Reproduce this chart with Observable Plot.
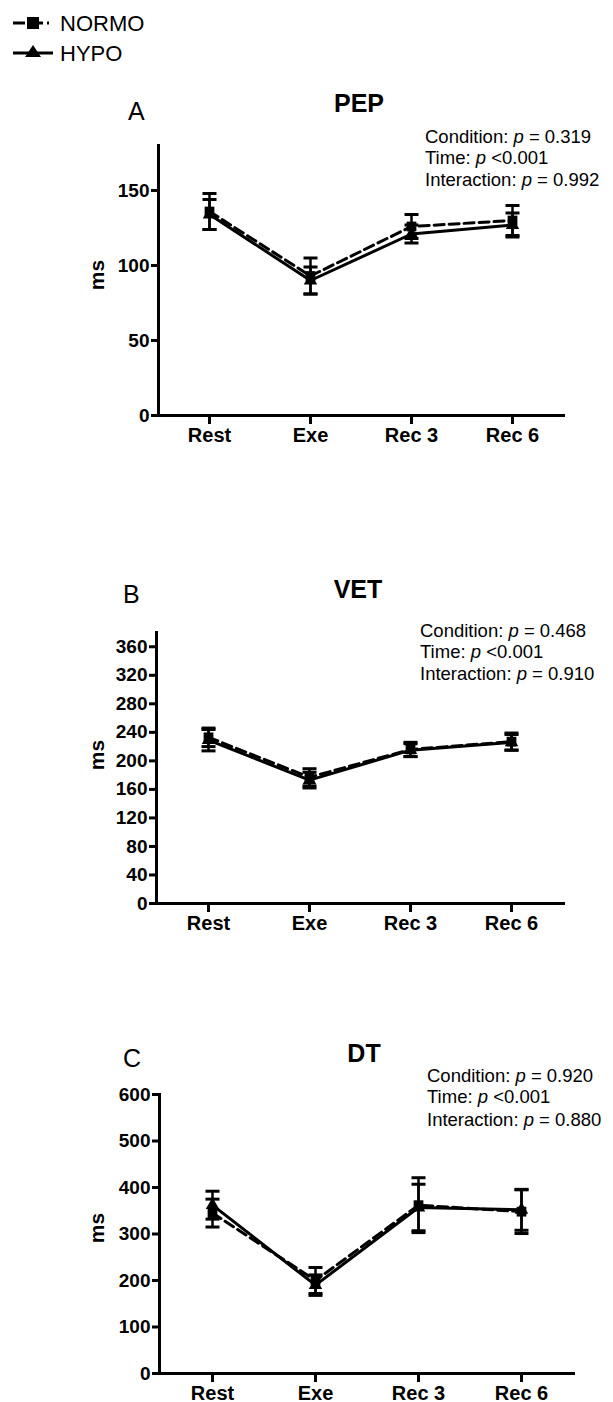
<!DOCTYPE html>
<html><head><meta charset="utf-8">
<script src="https://cdn.jsdelivr.net/npm/d3@7"></script>
<script src="https://cdn.jsdelivr.net/npm/@observablehq/plot@0.6"></script>
<style>
body{margin:0;background:#fff;width:613px;height:1402px;position:relative;overflow:hidden;font-family:Arial,"Liberation Sans",sans-serif;}
.panel{position:absolute;left:0;}
</style></head><body>
<div id="legend" class="panel" style="top:0"></div>
<div id="pA" class="panel"></div>
<div id="pB" class="panel"></div>
<div id="pC" class="panel"></div>
<script>
// ---- data ----
const times = ["Rest", "Exe", "Rec 3", "Rec 6"];
const seriesNames = ["NORMO", "HYPO"];

const pepNormoMean = [136, 93, 126, 130];
const pepNormoSD   = [12, 12, 8, 10];
const pepHypoMean  = [134, 90, 121, 127];
const pepHypoSD    = [10, 9, 6, 8];
const pepTicks = [0, 50, 100, 150];
const pepStats = ["= 0.319", "<0.001", "= 0.992"];

const vetNormoMean = [233, 177, 216, 227];
const vetNormoSD   = [13, 12, 10, 12];
const vetHypoMean  = [229, 173, 215, 226];
const vetHypoSD    = [15, 11, 9, 11];
const vetTicks = [0, 40, 80, 120, 160, 200, 240, 280, 320, 360];
const vetStats = ["= 0.468", "<0.001", "= 0.910"];

const dtNormoMean = [345, 200, 362, 348];
const dtNormoSD   = [30, 28, 59, 47];
const dtHypoMean  = [362, 190, 357, 352];
const dtHypoSD    = [30, 22, 50, 44];
const dtTicks = [0, 100, 200, 300, 400, 500, 600];
const dtStats = ["= 0.920", "<0.001", "= 0.880"];

const statLabels = ["Condition:", "Time:", "Interaction:"];

const FONT = "Arial, 'Liberation Sans', sans-serif";

// horizontal-bar symbol for error-bar caps
const capSymbol = {
  draw(context, size) {
    const r = Math.sqrt(size / Math.PI);
    context.moveTo(-r, 0);
    context.lineTo(r, 0);
  }
};

function panel(cfg) {
  const normo = times.map((t, i) => ({series: "NORMO", time: t, mean: cfg.normoMean[i], sd: cfg.normoSD[i]}));
  const hypo = times.map((t, i) => ({series: "HYPO", time: t, mean: cfg.hypoMean[i], sd: cfg.hypoSD[i]}));
  const rows = hypo.concat(normo);
  const top = cfg.top;
  const chart = Plot.plot({
    width: 613,
    height: cfg.height,
    marginLeft: cfg.left,
    marginRight: 613 - cfg.right,
    marginTop: cfg.plotTop - top,
    marginBottom: top + cfg.height - cfg.plotBottom,
    style: {fontFamily: FONT, fontWeight: "bold", background: "white", color: "black", overflow: "visible"},
    x: {type: "point", domain: times, padding: 0.5},
    y: {domain: [0, cfg.yMax]},
    marks: [
      Plot.axisY({ticks: cfg.ticks, tickSize: 7, tickPadding: 2, strokeWidth: 3, fontSize: cfg.tickFont, fontWeight: "bold", label: null, tickFormat: d => String(d)}),
      Plot.axisX({tickSize: 9, tickPadding: 3, strokeWidth: 3, fontSize: 20, fontWeight: "bold", label: null}),
      Plot.ruleX(rows, {x: "time", y1: d => d.mean - d.sd, y2: d => d.mean + d.sd, strokeWidth: 2.5}),
      Plot.dot(rows, {x: "time", y: d => d.mean + d.sd, symbol: capSymbol, r: 7, stroke: "black", strokeWidth: 3, fill: "none"}),
      Plot.dot(rows, {x: "time", y: d => d.mean - d.sd, symbol: capSymbol, r: 7, stroke: "black", strokeWidth: 3, fill: "none"}),
      Plot.line(hypo, {x: "time", y: "mean", strokeWidth: 3}),
      Plot.line(normo, {x: "time", y: "mean", strokeWidth: 3, strokeDasharray: "10,5"}),
      Plot.dot(hypo, {x: "time", y: "mean", symbol: "triangle", r: 5, fill: "black"}),
      Plot.dot(normo, {x: "time", y: "mean", symbol: "square", r: 5.5, fill: "black"}),
      Plot.frame({anchor: "left", strokeWidth: 3, strokeLinecap: "square"}),
      Plot.frame({anchor: "bottom", strokeWidth: 3, strokeLinecap: "square"})
    ]
  });
  const svg = d3.select(chart);
  svg.append("text").attr("x", cfg.letterX).attr("y", cfg.letterY - top).attr("text-anchor", "start")
    .attr("font-size", 25).attr("font-weight", "normal").attr("fill", "black").text(cfg.letter);
  svg.append("text").attr("x", cfg.titleX).attr("y", cfg.titleY - top).attr("text-anchor", "middle")
    .attr("font-size", 25).attr("font-weight", "bold").attr("fill", "black").text(cfg.title);
  cfg.stats.forEach((s, i) => {
    const t = svg.append("text").attr("x", cfg.statX).attr("y", cfg.statY[i] - top).attr("text-anchor", "start")
      .attr("font-size", 18.5).attr("font-weight", "normal").attr("fill", "black");
    t.append("tspan").text(statLabels[i] + " ");
    t.append("tspan").attr("font-style", "italic").text("p");
    t.append("tspan").text(" " + s);
  });
  svg.append("text").attr("transform", `translate(${cfg.msX},${cfg.msY - top}) rotate(-90)`)
    .attr("text-anchor", "middle").attr("font-size", 21).attr("font-weight", "bold").attr("fill", "black").text("ms");
  const host = document.getElementById(cfg.id);
  host.style.top = top + "px";
  host.appendChild(chart);
}

panel({id: "pA", top: 85, height: 375, left: 158, right: 563, plotTop: 145, plotBottom: 415, yMax: 180, ticks: pepTicks, tickFont: 19,
  normoMean: pepNormoMean, normoSD: pepNormoSD, hypoMean: pepHypoMean, hypoSD: pepHypoSD,
  letter: "A", letterX: 128, letterY: 120, title: "PEP", titleX: 359, titleY: 112,
  stats: pepStats, statX: 425, statY: [143, 164, 186], msX: 104, msY: 275});

panel({id: "pB", top: 560, height: 380, left: 156, right: 563, plotTop: 632, plotBottom: 903, yMax: 380, ticks: vetTicks, tickFont: 19,
  normoMean: vetNormoMean, normoSD: vetNormoSD, hypoMean: vetHypoMean, hypoSD: vetHypoSD,
  letter: "B", letterX: 123, letterY: 603, title: "VET", titleX: 358, titleY: 598,
  stats: vetStats, statX: 420, statY: [637, 658, 680], msX: 104, msY: 755});

panel({id: "pC", top: 1020, height: 382, left: 159, right: 573, plotTop: 1094, plotBottom: 1373, yMax: 600, ticks: dtTicks, tickFont: 19,
  normoMean: dtNormoMean, normoSD: dtNormoSD, hypoMean: dtHypoMean, hypoSD: dtHypoSD,
  letter: "C", letterX: 123, letterY: 1067, title: "DT", titleX: 364, titleY: 1062,
  stats: dtStats, statX: 427, statY: [1082, 1103, 1126], msX: 104, msY: 1228});

// ---- legend ----
(function () {
  const svg = d3.create("svg").attr("width", 200).attr("height", 75);
  const rowsY = [23, 53];
  svg.append("line").attr("x1", 13).attr("x2", 53).attr("y1", rowsY[0]).attr("y2", rowsY[0])
    .attr("stroke", "black").attr("stroke-width", 3).attr("stroke-dasharray", "12,4,14,4,2");
  svg.append("rect").attr("x", 27).attr("y", rowsY[0] - 6).attr("width", 12).attr("height", 12).attr("fill", "black");
  svg.append("line").attr("x1", 13).attr("x2", 53).attr("y1", rowsY[1]).attr("y2", rowsY[1])
    .attr("stroke", "black").attr("stroke-width", 3);
  svg.append("path").attr("d", `M${25},${rowsY[1] + 4}L${33},${rowsY[1] - 8}L${41},${rowsY[1] + 4}Z`).attr("fill", "black");
  seriesNames.forEach((n, i) => {
    svg.append("text").attr("x", 60).attr("y", rowsY[i] + 8).attr("font-size", 22)
      .attr("font-family", FONT).attr("fill", "black").text(n);
  });
  document.getElementById("legend").appendChild(svg.node());
})();
</script>
</body></html>
